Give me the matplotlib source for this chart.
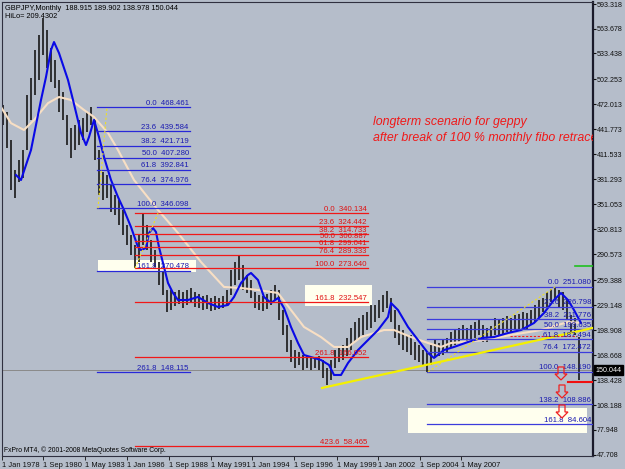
import matplotlib
matplotlib.use("Agg")
import matplotlib.pyplot as plt
from matplotlib.patches import Rectangle, Polygon

plt.rcParams['font.family'] = ['Liberation Sans', 'DejaVu Sans']

W, H = 625, 469
BG = '#B5BDCA'

# ---------------- data ----------------
highs = [471.1, 462.7, 428.8, 392.5, 404.6, 416.7, 483.2, 503.8, 537.7, 555.8,
         576.4, 561.9, 540.1, 525.6, 501.4, 486.9, 459.0, 443.3, 446.9, 453.0,
         455.4, 462.7, 468.5, 455.4, 416.7, 390.1, 386.4, 374.3, 362.3, 356.2,
         344.1, 326.0, 313.9, 301.8, 313.9, 340.1, 326.0, 307.8, 295.7, 281.2,
         269.1, 247.3, 247.3, 244.9, 247.3, 244.9, 247.3, 249.7, 244.9, 242.5,
         240.1, 241.3, 237.6, 240.1, 237.6, 240.1, 247.3, 271.5, 281.2, 289.7,
         277.6, 265.5, 259.4, 244.9, 241.3, 240.1, 242.5, 247.3, 253.4, 247.3,
         223.1, 205.0, 186.8, 174.7, 172.3, 168.7, 167.5, 166.3, 165.1, 167.5,
         162.6, 153.0, 162.6, 174.7, 177.2, 180.8, 189.2, 201.4, 208.6, 213.4,
         217.1, 220.7, 229.2, 229.2, 235.2, 241.3, 246.1, 237.6, 223.1, 205.0,
         198.9, 192.9, 192.9, 184.4, 180.8, 174.7, 172.3, 180.8, 186.8, 183.2,
         186.8, 189.2, 196.5, 198.9, 201.4, 205.0, 201.4, 205.0, 208.6, 211.0,
         205.0, 201.4, 203.8, 213.4, 211.0, 213.4, 215.9, 213.4, 217.1, 218.3,
         220.7, 219.5, 223.1, 229.2, 235.2, 237.6, 244.9, 248.0, 251.1, 247.3,
         244.9, 235.2, 217.1, 213.4, 189.902]
lows = [446.9, 419.1, 368.3, 358.6, 378.0, 382.8, 416.7, 453.0, 483.2, 501.4,
        531.6, 515.9, 499.0, 491.7, 462.7, 453.0, 422.7, 407.0, 416.7, 422.7,
        428.8, 438.5, 446.9, 404.6, 362.3, 356.2, 358.6, 341.7, 338.1, 326.0,
        313.9, 301.8, 289.7, 273.6, 281.2, 301.8, 295.7, 281.2, 275.0, 253.4,
        241.3, 220.7, 223.1, 228.0, 230.4, 225.5, 229.2, 231.6, 226.8, 225.5,
        223.1, 224.3, 221.9, 223.1, 224.3, 225.5, 229.2, 241.3, 253.4, 259.4,
        247.3, 243.7, 237.6, 225.5, 223.1, 221.9, 224.3, 229.2, 235.2, 211.0,
        192.9, 172.3, 160.2, 153.0, 156.6, 150.5, 153.0, 150.5, 153.0, 150.5,
        140.9, 132.4, 138.4, 153.0, 160.2, 162.6, 167.5, 174.7, 184.4, 189.2,
        192.9, 198.9, 201.4, 208.6, 213.4, 220.7, 225.5, 208.6, 189.2, 180.8,
        174.7, 172.3, 168.7, 162.6, 160.2, 155.4, 148.2, 156.6, 165.1, 167.5,
        168.7, 172.3, 177.2, 180.8, 183.2, 186.8, 184.4, 186.8, 189.2, 192.9,
        184.4, 184.4, 186.8, 192.9, 192.9, 194.1, 196.5, 195.3, 198.9, 198.9,
        201.4, 198.9, 205.0, 208.6, 213.4, 220.7, 225.5, 232.8, 235.2, 225.5,
        223.1, 211.0, 196.5, 192.9, 138.978]

# fast moving average (blue): (bar index, price)
blue_ma_idx = [3.25, 4.5, 7, 9.5, 10.75, 12, 12.75, 14, 16.25, 17.5, 19.5, 20.75, 21.5, 22.75,
               24, 25.25, 27, 28.75, 30.25, 32, 33.75, 34.5, 35.75, 36.5, 37.5, 38.25, 39, 40,
               41.25, 42.5, 43.75, 46.25, 48.75, 51.25, 53.75, 56.25, 57.75, 59.5, 61.25, 62,
               63.75, 65.25, 67, 68.75, 70.25, 72, 73.75, 75.25, 79.5, 81.5, 82.75, 84.5, 86.25,
               88.75, 91.25, 93.75, 96.25, 97, 98.75, 101.25, 103.75, 106.25, 107.75, 110.25,
               112.75, 116.25, 119.5, 122.75, 126.25, 129.5, 132.75, 135.25, 137.75, 139.5,
               141.25, 142.75, 144.5]
blue_ma_val = [386.4, 380.4, 416.7, 477.2, 505.0, 537.7, 547.3, 534.0, 501.4, 477.2, 437.3, 422.7,
               432.4, 453.0, 432.4, 408.2, 380.4, 359.8, 344.1, 323.5, 299.3, 295.7, 298.1, 316.3,
               322.3, 317.5, 299.3, 280.0, 255.8, 243.7, 235.2, 235.2, 238.9, 231.6, 226.8, 229.2,
               238.9, 255.8, 265.5, 267.9, 259.4, 238.9, 231.6, 237.6, 225.5, 202.6, 183.2, 168.7,
               162.6, 156.6, 144.5, 144.5, 159.0, 174.7, 186.8, 198.9, 214.7, 231.6, 223.1, 202.6,
               186.8, 171.1, 165.1, 174.7, 178.4, 184.4, 189.2, 190.4, 195.3, 198.9, 207.4, 219.5,
               235.2, 243.7, 235.2, 223.1, 207.4]

# slow moving average (cream)
cream_ma_idx = [-0.5, 2, 5.25, 7.75, 11.25, 14, 17, 20.25, 22.75, 26.25, 28.75, 32.75, 38.75,
                43.75, 49.5, 55.25, 59.5, 63.75, 68.75, 72, 75.25, 79.5, 82.75, 86.25, 89.5,
                95.25, 97.75, 102, 106.25, 109.5, 112, 120.25, 127, 134.5, 141.25, 144.5]
cream_ma_val = [468.7, 449.2, 440.9, 453.0, 473.4, 480.8, 477.2, 465.1, 456.6, 437.3, 416.7,
                380.4, 344.1, 316.3, 281.2, 251.0, 249.7, 247.3, 243.7, 223.1, 202.6, 190.4,
                178.4, 178.4, 190.4, 198.9, 198.9, 190.4, 183.2, 178.4, 183.2, 186.8, 192.9,
                198.9, 208.6, 207.4]

# Fibonacci retracements
left_fib_levels = [0.0, 23.6, 38.2, 50.0, 61.8, 76.4, 100.0, 161.8, 261.8]
left_fib_values = [468.461, 439.584, 421.719, 407.280, 392.841, 374.976, 346.098, 270.478, 148.115]
red_fib_levels = [0.0, 23.6, 38.2, 50.0, 61.8, 76.4, 100.0, 161.8, 261.8, 423.6]
red_fib_values = [340.134, 324.442, 314.733, 306.887, 299.041, 289.333, 273.640, 232.547, 166.052, 58.465]
right_fib_levels = [0.0, 23.6, 38.2, 50.0, 61.8, 76.4, 100.0, 138.2, 161.8]
right_fib_values = [251.080, 226.798, 211.776, 199.635, 187.494, 172.472, 148.190, 108.886, 84.604]

price_ticks = [593.318, 563.678, 533.438, 502.253, 472.013, 441.773, 411.533, 381.293,
               351.053, 320.813, 290.573, 259.388, 229.148, 198.908, 168.668, 138.428,
               108.188, 77.948, 47.708]
date_labels = ['1 Jan 1978', '1 Sep 1980', '1 May 1983', '1 Jan 1986', '1 Sep 1988',
               '1 May 1991', '1 Jan 1994', '1 Sep 1996', '1 May 1999', '1 Jan 2002',
               '1 Sep 2004', '1 May 2007']
date_label_idx = [-0.25, 10, 20.5, 31, 41.5, 52, 62.25, 72.75, 83.5, 93.75, 104.25, 114.5]

last_quote = [188.915, 189.902, 138.978, 150.044]   # O H L C

# ---------------- figure ----------------
fig = plt.figure(figsize=(W / 100, H / 100), dpi=100)
fig.patch.set_facecolor(BG)
ax = fig.add_axes([2 / W, 1 - 456 / H, (593 - 2) / W, (456 - 2) / H])
ax.set_facecolor(BG)

X0, X1 = -0.25, 147.5
Y0, Y1 = 46.49, 595.74
ax.set_xlim(X0, X1)
ax.set_ylim(Y0, Y1)
PX = (X1 - X0) / 591.0      # bar units per pixel
PY = (Y1 - Y0) / 454.0      # price per pixel

idx = list(range(len(highs)))

# highlight boxes
box_kw = dict(facecolor='#FFFFEE', edgecolor='none', zorder=1.5)
ax.add_patch(Rectangle((23.75, 269.1), 24.5, 14.5, **box_kw))
ax.add_patch(Rectangle((75.5, 228.0), 16.75, 25.4, **box_kw))
ax.add_patch(Rectangle((101.25, 74.3), 44.75, 30.3, **box_kw))

# bid line
ax.axhline(last_quote[3], color='#8A8A8A', lw=0.7, zorder=1.6)

# bars
ax.vlines(idx, lows, highs, color='#181818', lw=1.2, zorder=2)

# moving averages
ax.plot(cream_ma_idx, cream_ma_val, color='#F8DFC4', lw=1.5, zorder=3)
ax.plot(blue_ma_idx, blue_ma_val, color='#0A0AE6', lw=1.5, zorder=3.2)

def fib(levels, values, x0, x1, color, tcolor):
    for lv, v in zip(levels, values):
        ax.plot([x0, x1], [v, v], color=color, lw=0.9, zorder=4)
        ax.text(x1 - 0.3, v + 0.6, f"{lv:.1f}  {v:.3f}", color=tcolor, fontsize=5.6,
                ha='right', va='bottom', zorder=5, clip_on=False)

fib(left_fib_levels, left_fib_values, 23.5, 46.75, '#2828D8', '#1A1AB0')
fib(red_fib_levels, red_fib_values, 33.0, 91.25, '#F01818', '#E01010')
fib(right_fib_levels, right_fib_values, 106.0, 147.3, '#3C3CDC', '#1A1AB0')

# fib trend lines (dotted yellow)
ax.plot([23.75, 26.0], [346.098, 468.461], color='#F0E020', lw=0.8, ls=(0, (2, 2)), zorder=4)
ax.plot([33.0, 38.75], [273.640, 340.134], color='#F0E020', lw=0.8, ls=(0, (2, 2)), zorder=4)
ax.plot([106.25, 138.0], [148.190, 251.080], color='#F0E020', lw=0.8, ls=(0, (2, 2)), zorder=4)

# yellow support trend line
ax.plot([79.75, 147.5], [128.8, 201.4], color='#F4F000', lw=1.6, zorder=4.5)

# extra horizontal marks
ax.plot([126.75, 143.5], [191.7, 191.7], color='#F02020', lw=0.8, ls=(0, (2, 1.5)), zorder=4.6)
ax.plot([143.0, 147.5], [276.4, 276.4], color='#20C020', lw=1.2, zorder=4.6)
ax.plot([141.25, 147.5], [136.0, 136.0], color='#F01010', lw=1.5, zorder=4.6)

# hollow down arrows
def down_arrow(cx, top):
    shape = [(-3, 0), (3, 0), (3, 7), (6, 7), (0, 13), (-6, 7), (-3, 7)]
    pts = [(cx + dx * PX, top - dy * PY) for dx, dy in shape]
    ax.add_patch(Polygon(pts, closed=True, facecolor='none', edgecolor='#F02020',
                         lw=0.9, zorder=6))

down_arrow(139.5, 154.2)
down_arrow(139.75, 132.4)
down_arrow(139.75, 108.2)

# annotation texts
ax.text(92.5, 598.16 - 1.2098 * 122, 'longterm scenario for geppy', color='#F01818',
        fontsize=8.9, style='italic', ha='left', va='center', zorder=6, clip_on=True)
ax.text(92.5, 598.16 - 1.2098 * 138, 'after break of 100 % monthly fibo retrace', color='#F01818',
        fontsize=8.9, style='italic', ha='left', va='center', zorder=6, clip_on=True)

# axes styling
for s in ['left', 'top', 'bottom']:
    ax.spines[s].set_color('#303040')
    ax.spines[s].set_linewidth(0.8)
ax.spines['right'].set_color('#1A1A2A')
ax.spines['right'].set_linewidth(1.6)

ax.yaxis.tick_right()
ax.set_yticks(price_ticks)
ax.set_yticklabels([f"{v:.3f}" for v in price_ticks])
ax.tick_params(axis='y', length=2.0, width=0.8, colors='#101010', labelsize=5.1, pad=0.8)
ax.set_xticks(date_label_idx)
ax.set_xticklabels(date_labels)
ax.tick_params(axis='x', length=3, width=0.6, colors='#101010', labelsize=5.4, pad=1.5)
for lab in ax.get_xticklabels():
    lab.set_ha('left')

# current price label
yb = (last_quote[3] - Y0) / (Y1 - Y0)
ax.text(1.004, yb, f"{last_quote[3]:.3f}", transform=ax.transAxes, color='white',
        fontsize=5.1, ha='left', va='center', zorder=10, clip_on=False,
        bbox=dict(facecolor='black', edgecolor='black', pad=1.0))

# header / footer
fig.text(5 / W, 1 - 8 / H, 'GBPJPY,Monthly  188.915 189.902 138.978 150.044',
         fontsize=5.3, color='black', va='center', ha='left')
fig.text(5 / W, 1 - 16.5 / H, 'HiLo= 209.4302', fontsize=5.3, color='black', va='center', ha='left')
fig.text(4 / W, 1 - 450 / H, 'FxPro MT4, \u00a9 2001-2008 MetaQuotes Software Corp.',
         fontsize=4.9, color='black', va='center', ha='left')

fig.savefig('out.png', dpi=100, facecolor=BG)
